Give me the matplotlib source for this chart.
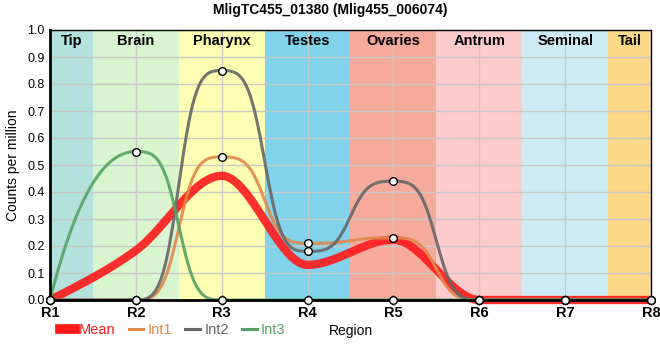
import numpy as np
import matplotlib.pyplot as plt
from matplotlib.lines import Line2D

plt.rcParams['font.family'] = ['Liberation Sans', 'DejaVu Sans']

# Data
regions = ["R1", "R2", "R3", "R4", "R5", "R6", "R7", "R8"]
int1 = [0, 0, 0.53, 0.21, 0.23, 0, 0, 0]
int2 = [0, 0, 0.85, 0.18, 0.44, 0, 0, 0]
int3 = [0, 0.55, 0, 0, 0, 0, 0, 0]

tissues = ["Tip", "Brain", "Pharynx", "Testes", "Ovaries", "Antrum", "Seminal", "Tail"]
tissue_start = [0, 0.5, 1.5, 2.5, 3.5, 4.5, 5.5, 6.5]
tissue_end = [0.5, 1.5, 2.5, 3.5, 4.5, 5.5, 6.5, 7]
tissue_colors = ["#b3e1dd", "#d8f5d0", "#ffffb3", "#80d3ea", "#f5aa9b",
                 "#fdcbcb", "#ceebf5", "#fdd98a"]

mean = list(np.mean([int1, int2, int3], axis=0))


def smooth(y, sharp=1.0, n=60):
    # monotone cubic (like d3.curveMonotoneX); segments between two flat
    # points get a steeper ease when sharp > 1
    y = np.asarray(y, dtype=float)
    s = np.diff(y)
    t = np.zeros_like(y)
    for i in range(1, len(y) - 1):
        s0, s1 = s[i - 1], s[i]
        p = (s0 + s1) / 2
        t[i] = (np.sign(s0) + np.sign(s1)) * min(abs(s0), abs(s1), 0.5 * abs(p))
    t[0] = (3 * s[0] - t[1]) / 2
    t[-1] = (3 * s[-1] - t[-2]) / 2
    if sharp > 1:
        # steeper start at the ends
        if t[1] == 0:
            t[0] = 2.3 * s[0]
        if t[-2] == 0:
            t[-1] = 2.3 * s[-1]
    xs, ys = [], []
    for i in range(len(y) - 1):
        u = np.linspace(0, 1, n, endpoint=False)
        if sharp > 1 and t[i] == 0 and t[i + 1] == 0:
            f = u**sharp / (u**sharp + (1 - u)**sharp)
            seg = y[i] + (y[i + 1] - y[i]) * f
        else:
            h00 = 2 * u**3 - 3 * u**2 + 1
            h10 = u**3 - 2 * u**2 + u
            h01 = -2 * u**3 + 3 * u**2
            h11 = u**3 - u**2
            seg = h00 * y[i] + h10 * t[i] + h01 * y[i + 1] + h11 * t[i + 1]
        xs.append(i + u)
        ys.append(seg)
    xs.append([len(y) - 1])
    ys.append([y[-1]])
    return np.concatenate(xs), np.concatenate(ys)


fig = plt.figure(figsize=(6.6, 3.6), dpi=100)
ax = fig.add_axes([50 / 660, 1 - 300 / 360, 601 / 660, 270 / 360])

for a, b, c, name in zip(tissue_start, tissue_end, tissue_colors, tissues):
    ax.axvspan(a, b, color=c, lw=0, zorder=0)
    ax.text((a + b) / 2, 0.985, name, ha="center", va="top", fontsize=10.5,
            fontweight="bold", zorder=5)

ax.set_xlim(0, 7)
ax.set_ylim(0, 1)
ax.set_yticks(np.arange(0, 1.01, 0.1))
ax.set_yticklabels([f"{v:.1f}" for v in np.arange(0, 1.01, 0.1)], fontsize=9)
ax.set_xticks(range(len(regions)))
ax.set_xticklabels(regions, fontsize=10.5, fontweight="bold")
ax.grid(True, color="#c8c8c8", lw=1, zorder=1)
ax.set_axisbelow(False)
ax.tick_params(axis="y", length=0, pad=4)
ax.tick_params(axis="x", direction="inout", length=7, width=1, pad=1)

for sp in ["left", "bottom"]:
    ax.spines[sp].set_linewidth(2)
for sp in ["top", "right"]:
    ax.spines[sp].set_linewidth(1)
for sp in ax.spines.values():
    sp.set_zorder(6)

colors = {"Mean": "#ff1a1a", "Int1": "#e0894a", "Int2": "#666666", "Int3": "#55a264"}

xm, ym = smooth(mean)
ax.plot(xm, ym, color=colors["Mean"], lw=6, alpha=0.9, zorder=3,
        solid_capstyle="butt", clip_on=False)
for name, vals in [("Int1", int1), ("Int2", int2), ("Int3", int3)]:
    xs, ys = smooth(vals, sharp=2.6)
    ax.plot(xs, ys, color=colors[name], lw=2.2, alpha=0.9, zorder=4, clip_on=False)

for vals in [int1, int2, int3]:
    ax.plot(range(len(vals)), vals, ls="none", marker="o", ms=5.5, mfc="white",
            mec="black", mew=1, zorder=7, clip_on=False)

ax.set_ylabel("Counts per million", fontsize=10, labelpad=5)
fig.text(351 / 660, 1 - 331 / 360, "Region", ha="center", va="center", fontsize=10)
fig.suptitle("MligTC455_01380 (Mlig455_006074)", x=0.5, y=1 - 10 / 360,
             va="center", fontsize=10, fontweight="bold")

handles = [Line2D([], [], color=colors["Mean"], lw=7),
           Line2D([], [], color=colors["Int1"], lw=2.2),
           Line2D([], [], color=colors["Int2"], lw=2.2),
           Line2D([], [], color=colors["Int3"], lw=2.2)]
fig.legend(handles, ["Mean", "Int1", "Int2", "Int3"], loc="center left",
           bbox_to_anchor=(47 / 660, 1 - 330 / 360), ncol=4, frameon=False,
           fontsize=10.5, handlelength=1.0, handletextpad=0.3, columnspacing=0.9,
           labelcolor=[colors["Mean"], colors["Int1"], colors["Int2"], colors["Int3"]])

fig.savefig("out.png", dpi=100)
